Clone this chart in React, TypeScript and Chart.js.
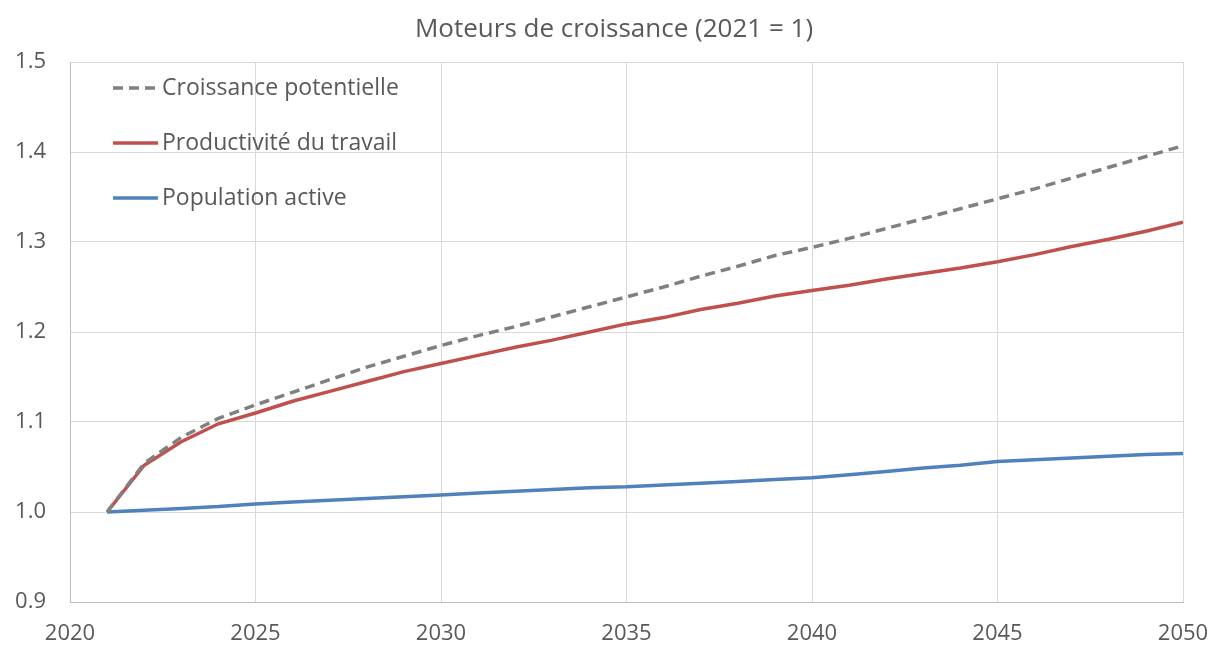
import React, { useEffect, useRef } from "react";
import { Chart, registerables } from "chart.js";

Chart.register(...registerables);

const years = [
  2021, 2022, 2023, 2024, 2025, 2026, 2027, 2028, 2029, 2030,
  2031, 2032, 2033, 2034, 2035, 2036, 2037, 2038, 2039, 2040,
  2041, 2042, 2043, 2044, 2045, 2046, 2047, 2048, 2049, 2050,
];

const croissancePotentielle = [
  1.0, 1.054, 1.083, 1.104, 1.119, 1.133, 1.147, 1.161, 1.173, 1.185,
  1.196, 1.206, 1.217, 1.228, 1.239, 1.25, 1.262, 1.273, 1.285, 1.294,
  1.304, 1.315, 1.326, 1.337, 1.348, 1.359, 1.371, 1.383, 1.395, 1.407,
];

const productiviteTravail = [
  1.0, 1.052, 1.078, 1.098, 1.11, 1.123, 1.134, 1.145, 1.156, 1.165,
  1.174, 1.183, 1.191, 1.2, 1.209, 1.216, 1.225, 1.232, 1.24, 1.246,
  1.252, 1.259, 1.265, 1.271, 1.278, 1.286, 1.295, 1.303, 1.312, 1.322,
];

const populationActive = [
  1.0, 1.002, 1.004, 1.006, 1.009, 1.011, 1.013, 1.015, 1.017, 1.019,
  1.021, 1.023, 1.025, 1.027, 1.028, 1.03, 1.032, 1.034, 1.036, 1.038,
  1.0415, 1.045, 1.049, 1.052, 1.056, 1.058, 1.06, 1.062, 1.064, 1.065,
];

const seriesNames = ["Croissance potentielle", "Productivité du travail", "Population active"];
const seriesColors = ["#808080", "#C0504D", "#4F81BD"];
const titleText = "Moteurs de croissance (2021 = 1)";

const FONT = "'Open Sans', Lato, sans-serif";
const TEXT_COLOR = "#595959";

const overlayPlugin = {
  id: "overlay",
  afterDraw(chart: any) {
    const ctx = chart.ctx;
    ctx.save();
    // title
    ctx.fillStyle = TEXT_COLOR;
    ctx.font = `26px ${FONT}`;
    ctx.textAlign = "center";
    ctx.textBaseline = "middle";
    ctx.fillText(titleText, 614, 30);
    // legend
    chart.data.datasets.forEach((ds: any, i: number) => {
      const y = 88 + 55 * i;
      ctx.beginPath();
      ctx.strokeStyle = ds.borderColor;
      ctx.lineWidth = ds.borderWidth;
      ctx.setLineDash(ds.borderDash || []);
      ctx.lineCap = "butt";
      ctx.moveTo(113, y);
      ctx.lineTo(158, y);
      ctx.stroke();
      ctx.setLineDash([]);
      ctx.fillStyle = TEXT_COLOR;
      ctx.font = `23px ${FONT}`;
      ctx.textAlign = "left";
      ctx.textBaseline = "middle";
      ctx.fillText(ds.label, 162, y);
    });
    ctx.restore();
  },
};

export default function App() {
  const canvasRef = useRef<HTMLCanvasElement | null>(null);

  useEffect(() => {
    if (!canvasRef.current) return;
    const toPoints = (vals: number[]) => vals.map((v, i) => ({ x: years[i], y: v }));
    const chart = new Chart(canvasRef.current, {
      type: "line",
      data: {
        datasets: [
          {
            label: seriesNames[0],
            data: toPoints(croissancePotentielle),
            borderColor: seriesColors[0],
            borderWidth: 3.5,
            borderDash: [10, 6],
            pointRadius: 0,
            tension: 0,
          },
          {
            label: seriesNames[1],
            data: toPoints(productiviteTravail),
            borderColor: seriesColors[1],
            borderWidth: 3.5,
            pointRadius: 0,
            tension: 0,
          },
          {
            label: seriesNames[2],
            data: toPoints(populationActive),
            borderColor: seriesColors[2],
            borderWidth: 3.5,
            pointRadius: 0,
            tension: 0,
          },
        ],
      },
      options: {
        animation: false,
        responsive: true,
        maintainAspectRatio: false,
        layout: { padding: { left: 0, right: 30, top: 62, bottom: 0 } },
        plugins: {
          legend: { display: false },
          tooltip: { enabled: false },
          title: { display: false },
        },
        scales: {
          x: {
            type: "linear",
            min: 2020,
            max: 2050,
            ticks: {
              stepSize: 5,
              color: TEXT_COLOR,
              font: { family: FONT, size: 22 },
              padding: 19,
              maxRotation: 0,
              callback: (v: any) => String(v),
            },
            grid: { color: "#D9D9D9", lineWidth: 1, drawTicks: false },
            border: { color: "#BFBFBF", width: 1 },
            afterFit: (s: any) => {
              s.height = 44;
              s.paddingLeft = 0;
              s.paddingRight = 0;
            },
          },
          y: {
            min: 0.9,
            max: 1.5,
            ticks: {
              stepSize: 0.1,
              color: TEXT_COLOR,
              font: { family: FONT, size: 22 },
              padding: 24,
              callback: (v: any) => Number(v).toFixed(1),
            },
            grid: { color: "#D9D9D9", lineWidth: 1, drawTicks: false },
            border: { color: "#BFBFBF", width: 1 },
            afterFit: (s: any) => {
              s.width = 70;
              s.paddingTop = 0;
              s.paddingBottom = 0;
            },
          },
        },
      },
      plugins: [overlayPlugin],
    });
    return () => chart.destroy();
  }, []);

  return (
    <div
      style={{
        position: "fixed",
        left: 0,
        top: 0,
        width: "1213px",
        height: "646px",
        background: "#ffffff",
      }}
    >
      <canvas ref={canvasRef} />
    </div>
  );
}
